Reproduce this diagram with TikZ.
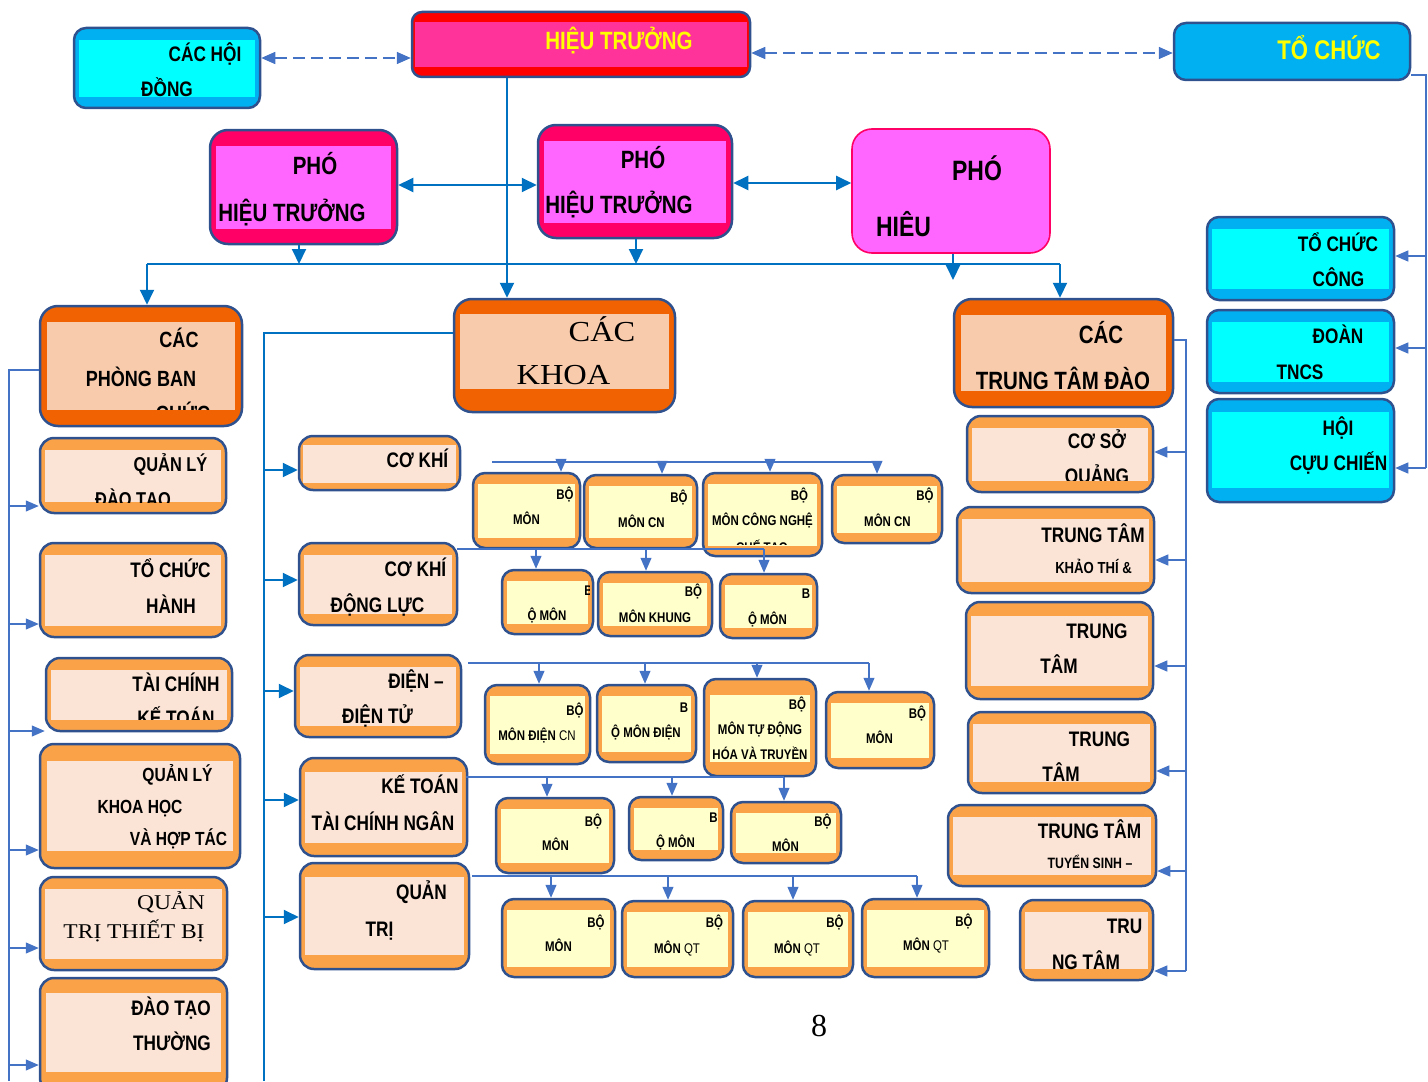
\documentclass[tikz,border=0pt]{standalone}
\usepackage{fontspec}
\setmainfont{Liberation Serif}
\newfontfamily\narrowsf[FakeStretch=0.82]{Liberation Sans}
\newfontfamily\widerm[FakeStretch=1.12]{Liberation Serif}
\usetikzlibrary{arrows.meta}

\definecolor{edgeblue}{RGB}{47,82,143}
\definecolor{wireblue}{RGB}{0,112,192}
\definecolor{hairblue}{RGB}{68,114,196}
\definecolor{skyout}{RGB}{0,176,240}
\definecolor{skyin}{RGB}{0,255,255}
\definecolor{htred}{RGB}{255,0,0}
\definecolor{htpink}{RGB}{255,51,153}
\definecolor{phout}{RGB}{255,0,102}
\definecolor{phin}{RGB}{255,102,255}
\definecolor{darkor}{RGB}{240,98,2}
\definecolor{peach}{RGB}{248,203,173}
\definecolor{lightor}{RGB}{250,162,72}
\definecolor{cream}{RGB}{251,228,214}
\definecolor{lemon}{RGB}{255,255,204}
\definecolor{txtyellow}{RGB}{255,255,0}

\tikzset{
  rim/.style={draw=edgeblue, line width=1.25pt, rounded corners=#1, inner sep=0pt},
  band/.style n args={4}{path picture={\fill[#1, sharp corners] ([xshift=#2,yshift=-#3]path picture bounding box.north west) rectangle ([xshift=-#2,yshift=#4]path picture bounding box.south east);}},
  skybox/.style={rim=6pt, fill=skyout, band={skyin}{2.5pt}{6pt}{5.5pt}},
  htbox/.style={rim=5pt, fill=htred, band={htpink}{1.5pt}{5pt}{5pt}},
  phbox/.style={rim=9pt, fill=phout, band={phin}{3pt}{8pt}{7.5pt}},
  phplain/.style={draw=phout, line width=0.8pt, rounded corners=10pt, fill=phin, inner sep=0pt},
  topbox/.style={rim=6pt, fill=skyout},
  bigbox/.style={rim=9pt, fill=darkor, band={peach}{3.5pt}{8pt}{8pt}},
  unitbox/.style={rim=7pt, fill=lightor, band={cream}{2.5pt}{6pt}{5.5pt}},
  subbox/.style={rim=6pt, fill=lightor, band={lemon}{2.5pt}{5.5pt}{5pt}},
  lbl/.style={font=\narrowsf\bfseries\fontsize{#1}{#1}\selectfont, inner sep=0pt, anchor=base},
  rml/.style={font=\widerm\fontsize{#1}{#1}\selectfont, inner sep=0pt, anchor=base},
  wire/.style={draw=wireblue, line width=1pt},
  wireA/.style={wire, -{Triangle[length=7.5pt,width=7pt]}},
  wireAB/.style={wire, {Triangle[length=7.5pt,width=7pt]}-{Triangle[length=7.5pt,width=7pt]}},
  hair/.style={draw=hairblue, line width=0.6pt},
  hairA/.style={hair, -{Triangle[length=6.5pt,width=5.5pt]}},
  dashwire/.style={draw=hairblue, line width=0.8pt, dash pattern=on 6pt off 3pt,
    {Triangle[length=7pt,width=6pt]}-{Triangle[length=7pt,width=6pt]}},
}

% box from its corners, in pixels of the page
\newcommand{\boxat}[6]{\node[#1, minimum width={(#5-#3)*0.5pt}, minimum height={(#6-#4)*0.5pt}] (#2) at ({(#3+#5)/2},{(#4+#6)/2}) {};}

\begin{document}
\begin{tikzpicture}[x=0.5pt,y=-0.5pt]
\clip (0,0) rectangle (1428,1081);

% top
\boxat{skybox}{hd}{74}{28}{260}{108}
\node[lbl=10.5] (hdA) at (205,62) {CÁC HỘI};
\node[lbl=10.5] (hdB) at (167,97) {ĐỒNG};
\boxat{htbox}{ht}{412}{12}{750}{77}
\node[lbl=12.5, text=txtyellow] (htA) at (619,50) {HIỆU TRƯỞNG};
\boxat{topbox}{tcc}{1174}{23}{1410}{80}
\node[lbl=13.5, text=txtyellow] (tccA) at (1329,60) {TỔ CHỨC};

% pho hieu truong
\boxat{phbox}{pht1}{210}{130}{397}{244}
\node[lbl=12.5] (pht1A) at (315,174) {PHÓ};
\node[lbl=12.5] (pht1B) at (292,221) {HIỆU TRƯỞNG};
\boxat{phbox}{pht2}{538}{125}{732}{238}
\node[lbl=12.5] (pht2A) at (643,168) {PHÓ};
\node[lbl=12.5] (pht2B) at (619,213) {HIỆU TRƯỞNG};
\boxat{phplain}{pht3}{852}{129}{1050}{253}
\node[lbl=14] (pht3A) at (977,180) {PHÓ};
\node[lbl=14] (pht3B) at (903.5,236) {HIÊU};

% doan the
\boxat{skybox}{tcn}{1207}{217}{1394}{300}
\node[lbl=10.5] (tcnA) at (1338,251) {TỔ CHỨC};
\node[lbl=10.5] (tcnB) at (1338.5,286) {CÔNG};
\boxat{skybox}{dtn}{1207}{310}{1394}{393}
\node[lbl=10.5] (dtnA) at (1338,343) {ĐOÀN};
\node[lbl=10.5] (dtnB) at (1300,379) {TNCS};
\boxat{skybox, band={skyin}{2.5pt}{6.5pt}{7pt}}{hcc}{1207}{399}{1394}{502}
\node[lbl=10.5] (hccA) at (1338,435) {HỘI};
\node[lbl=10.5] (hccB) at (1338.5,470) {CỰU CHIẾN};

% big heads
\boxat{bigbox}{pb}{40}{306}{242}{426}
\node[lbl=11] (pbA) at (179,347) {CÁC};
\node[lbl=11] (pbB) at (141,386) {PHÒNG BAN};
\begin{scope}
\clip (47,323) rectangle (235,409);
\node[lbl=11] (pbC) at (183,421) {CHỨC};
\end{scope}
\boxat{bigbox, band={peach}{3pt}{7.5pt}{11.5pt}}{khoa}{454}{299}{675}{412}
\node[rml=14.5] (khoaA) at (602,341) {CÁC};
\node[rml=14.5] (khoaB) at (563.5,384) {KHOA};
\boxat{bigbox}{ttd}{954}{299}{1173}{407}
\node[lbl=12.5] (ttdA) at (1101,343) {CÁC};
\node[lbl=12.5] (ttdB) at (1063,389) {TRUNG TÂM ĐÀO};

% phong ban
\boxat{unitbox}{qldt}{40}{438}{226}{513}
\node[lbl=10] (qldtA) at (170.5,471) {QUẢN LÝ};
\begin{scope}
\clip (45,449) rectangle (222,502);
\node[lbl=10] (qldtB) at (133,506) {ĐÀO TẠO};
\end{scope}
\boxat{unitbox}{tch}{40}{543}{226}{637}
\node[lbl=10.5] (tchA) at (170.5,577) {TỔ CHỨC};
\node[lbl=10.5] (tchB) at (171,613) {HÀNH};
\boxat{unitbox}{tck}{46}{658}{232}{731}
\node[lbl=10.5] (tckA) at (176,691) {TÀI CHÍNH};
\begin{scope}
\clip (50,668) rectangle (228,719);
\node[lbl=10.5] (tckB) at (176,725) {KẾ TOÁN};
\end{scope}
\boxat{unitbox, band={cream}{3.5pt}{8.5pt}{8.5pt}}{qlkh}{40}{744}{240}{868}
\node[lbl=9.5] (qlkhA) at (177.5,781) {QUẢN LÝ};
\node[lbl=9.5] (qlkhB) at (140,813) {KHOA HỌC};
\node[lbl=9.5] (qlkhC) at (178.5,845) {VÀ HỢP TÁC};
\boxat{unitbox}{qttb}{40}{877}{227}{970}
\node[rml=10.5] (qttbA) at (171,909) {QUẢN};
\node[rml=10.5] (qttbB) at (134,938) {TRỊ THIẾT BỊ};
\boxat{unitbox, band={cream}{3pt}{7.5pt}{10pt}}{dtt}{40}{978}{227}{1092}
\node[lbl=10.5] (dttA) at (171,1015) {ĐÀO TẠO};
\node[lbl=10.5] (dttB) at (172,1050) {THƯỜNG};

% khoa
\boxat{unitbox, band={cream}{2pt}{4.5pt}{3.5pt}}{ck}{299}{436}{460}{490}
\node[lbl=10.5] (ckA) at (417.5,467) {CƠ KHÍ};
\boxat{unitbox}{ckdl}{299}{543}{457}{625}
\node[lbl=10.5] (ckdlA) at (415.5,576) {CƠ KHÍ};
\node[lbl=10.5] (ckdlB) at (377.5,612) {ĐỘNG LỰC};
\boxat{unitbox}{ddt}{295}{655}{461}{737}
\node[lbl=10.5] (ddtA) at (416,688) {ĐIỆN –};
\node[lbl=10.5] (ddtB) at (377.5,723) {ĐIỆN TỬ};
\boxat{unitbox, band={cream}{2.5pt}{7pt}{6.5pt}}{ktnh}{300}{758}{467}{856}
\node[lbl=10.5] (ktnhA) at (420,793) {KẾ TOÁN};
\node[lbl=10.5] (ktnhB) at (383,830) {TÀI CHÍNH NGÂN};
\boxat{unitbox, band={cream}{2.5pt}{7pt}{7pt}}{qtri}{300}{863}{469}{969}
\node[lbl=10.5] (qtriA) at (421.5,899) {QUẢN};
\node[lbl=10.5] (qtriB) at (379.5,936) {TRỊ};

% bo mon, co khi
\boxat{subbox}{bm1}{473}{473}{580}{548}
\node[lbl=7] (bm1A) at (565,499) {BỘ};
\node[lbl=7] (bm1B) at (526.5,524) {MÔN};
\boxat{subbox}{bm2}{584}{475}{697}{548}
\node[lbl=7] (bm2A) at (679,502) {BỘ};
\node[lbl=7] (bm2B) at (641.5,527) {MÔN CN};
\boxat{subbox}{bm3}{703}{473}{822}{556}
\node[lbl=7] (bm3A) at (799.5,500) {BỘ};
\node[lbl=7] (bm3B) at (762.5,525) {MÔN CÔNG NGHỆ};
\begin{scope}
\clip (707,483) rectangle (817,544);
\node[lbl=7] (bm3C) at (762,552) {CHẾ TẠO};
\end{scope}
\boxat{subbox}{bm4}{832}{475}{942}{543}
\node[lbl=7] (bm4A) at (925,500) {BỘ};
\node[lbl=7] (bm4B) at (887.5,526) {MÔN CN};

% bo mon, co khi dong luc
\boxat{subbox}{bm5}{502}{570}{593}{634}
\begin{scope}
\clip (506,580) rectangle (589,624);
\node[lbl=7, anchor=base west] (bm5A) at (584,595) {B};
\end{scope}
\node[lbl=7] (bm5B) at (547,620) {Ộ MÔN};
\boxat{subbox}{bm6}{598}{572}{712}{636}
\node[lbl=7] (bm6A) at (693.5,596) {BỘ};
\node[lbl=7] (bm6B) at (655,622) {MÔN KHUNG};
\boxat{subbox}{bm7}{720}{574}{817}{638}
\node[lbl=7] (bm7A) at (806,598) {B};
\node[lbl=7] (bm7B) at (767.5,624) {Ộ MÔN};

% bo mon, dien
\boxat{subbox}{bm8}{485}{685}{590}{764}
\node[lbl=7] (bm8A) at (575,715) {BỘ};
\node[lbl=7] (bm8B) at (537,740) {MÔN ĐIỆN {\mdseries CN}};
\boxat{subbox}{bm9}{597}{685}{696}{762}
\node[lbl=7] (bm9A) at (684,712) {B};
\node[lbl=7] (bm9B) at (646,737) {Ộ MÔN ĐIỆN};
\boxat{subbox, band={lemon}{3pt}{8pt}{7pt}}{bm10}{704}{679}{816}{776}
\node[lbl=7] (bm10A) at (797.5,709) {BỘ};
\node[lbl=7] (bm10B) at (760,734) {MÔN TỰ ĐỘNG};
\node[lbl=7] (bm10C) at (760,759) {HÓA VÀ TRUYỀN};
\boxat{subbox}{bm11}{826}{692}{934}{768}
\node[lbl=7] (bm11A) at (917.5,718) {BỘ};
\node[lbl=7] (bm11B) at (879.5,743) {MÔN};

% bo mon, ke toan
\boxat{subbox}{bm12}{496}{798}{614}{873}
\node[lbl=7] (bm12A) at (593.5,826) {BỘ};
\node[lbl=7] (bm12B) at (555.5,850) {MÔN};
\boxat{subbox}{bm13}{629}{797}{723}{860}
\node[lbl=7] (bm13A) at (713.5,822) {B};
\node[lbl=7] (bm13B) at (675.5,847) {Ộ MÔN};
\boxat{subbox}{bm14}{731}{802}{841}{863}
\node[lbl=7] (bm14A) at (823,826) {BỘ};
\node[lbl=7] (bm14B) at (785.5,851) {MÔN};

% bo mon, quan tri
\boxat{subbox}{bm15}{502}{899}{615}{977}
\node[lbl=7] (bm15A) at (596,927) {BỘ};
\node[lbl=7] (bm15B) at (558.5,951) {MÔN};
\boxat{subbox}{bm16}{622}{901}{733}{977}
\node[lbl=7] (bm16A) at (714.5,927) {BỘ};
\node[lbl=7] (bm16B) at (677,953) {MÔN {\mdseries QT}};
\boxat{subbox}{bm17}{743}{901}{853}{977}
\node[lbl=7] (bm17A) at (835,927) {BỘ};
\node[lbl=7] (bm17B) at (797,953) {MÔN {\mdseries QT}};
\boxat{subbox}{bm18}{862}{899}{989}{977}
\node[lbl=7] (bm18A) at (964,926) {BỘ};
\node[lbl=7] (bm18B) at (926,950) {MÔN {\mdseries QT}};

% trung tam
\boxat{unitbox}{cs}{967}{416}{1153}{492}
\node[lbl=10.5] (csA) at (1097,448) {CƠ SỞ};
\begin{scope}
\clip (971,426) rectangle (1148,480);
\node[lbl=10.5] (csB) at (1097,483) {QUẢNG};
\end{scope}
\boxat{unitbox}{ktt}{957}{507}{1154}{593}
\node[lbl=10.5] (kttA) at (1093,542) {TRUNG TÂM};
\node[lbl=8] (kttB) at (1093.5,573) {KHẢO THÍ \&};
\boxat{unitbox, band={cream}{2.5pt}{7pt}{6.5pt}}{tt3}{966}{602}{1153}{699}
\node[lbl=10.5] (tt3A) at (1097,638) {TRUNG};
\node[lbl=10.5] (tt3B) at (1059,673) {TÂM};
\boxat{unitbox}{tt4}{968}{712}{1155}{793}
\node[lbl=10.5] (tt4A) at (1099.5,746) {TRUNG};
\node[lbl=10.5] (tt4B) at (1061,781) {TÂM};
\boxat{unitbox}{tt5}{948}{805}{1156}{886}
\node[lbl=10.5] (tt5A) at (1089.5,838) {TRUNG TÂM};
\node[lbl=7.5] (tt5B) at (1090,868) {TUYỂN SINH –};
\boxat{unitbox}{tt6}{1020}{900}{1153}{980}
\node[lbl=10.5] (tt6A) at (1124.5,933) {TRU};
\node[lbl=10.5] (tt6B) at (1086,969) {NG TÂM};

\node[font=\fontsize{16}{16}\selectfont, inner sep=0pt, anchor=base] (pg) at (819,1036) {8};

% links from the head
\draw[dashwire] (hd.east |- 0,58) -- (ht.west |- 0,58);
\draw[dashwire] (ht.east |- 0,53) -- (tcc.west |- 0,53);
\draw[wireAB] (pht1.east |- 0,185) -- (pht2.west |- 0,185);
\draw[wireAB] (pht2.east |- 0,183) -- (pht3.west |- 0,183);
\coordinate (vk) at (507,0);
\draw[wireA] (ht.south -| vk) -- (khoa.north -| vk);
\coordinate (busL) at (147,264);
\coordinate (busR) at (1060,264);
\draw[wire] (busL) -- (busR);
\draw[wireA] (busL) -- (pb.north -| busL);
\draw[wireA] (busR) -- (ttd.north -| busR);
\draw[wireA] (pht1.south -| 299,0) -- (busL -| 299,0);
\draw[wireA] (pht2.south -| 636,0) -- (busL -| 636,0);
\coordinate (p3end) at (953,280);
\draw[wireA] (pht3.south -| p3end) -- (p3end);

% doan the
\coordinate (rb) at (1426,0);
\draw[hair] (tcc.east |- 0,75) -- (rb |- 0,75) -- (rb |- 0,468);
\foreach \nm/\y in {tcn/256, dtn/348, hcc/468}
  \draw[hairA] (rb |- 0,\y) -- (\nm.east |- 0,\y);

% phong ban
\coordinate (lb) at (9,0);
\draw[hair] (pb.west |- 0,370) -- (lb |- 0,370) -- (lb |- 0,1081);
\foreach \nm/\y in {qldt/506, tch/624, tck/731, qlkh/850, qttb/948, dtt/1065}
  \draw[hairA] (lb |- 0,\y) -- (\nm.west |- 0,\y);

% khoa
\coordinate (kb) at (264,0);
\draw[wire] (khoa.west |- 0,333) -- (kb |- 0,333) -- (kb |- 0,1081);
\foreach \nm/\y in {ck/470, ckdl/580, ddt/691, ktnh/800, qtri/917}
  \draw[wireA] (kb |- 0,\y) -- (\nm.west |- 0,\y);

% trung tam
\coordinate (tb) at (1186,0);
\draw[hair] (ttd.east |- 0,340) -- (tb |- 0,340) -- (tb |- 0,971);
\foreach \nm/\y in {cs/452, ktt/560, tt3/666, tt4/771, tt5/871, tt6/971}
  \draw[hairA] (tb |- 0,\y) -- (\nm.east |- 0,\y);

% bo mon rows
\coordinate (r1a) at (492,462); \coordinate (r1b) at (877,462);
\draw[hair] (r1a) -- (r1b);
\foreach \nm/\x in {bm1/561, bm2/662, bm3/770, bm4/877}
  \draw[hairA] (r1a -| \x,0) -- (\nm.north -| \x,0);
\coordinate (r2a) at (457,549); \coordinate (r2b) at (764,549);
\draw[hair] (r2a) -- (r2b);
\foreach \nm/\x in {bm5/536, bm6/646, bm7/764}
  \draw[hairA] (r2a -| \x,0) -- (\nm.north -| \x,0);
\coordinate (r3a) at (468,663); \coordinate (r3b) at (869,663);
\draw[hair] (r3a) -- (r3b);
\foreach \nm/\x in {bm8/539, bm9/645, bm10/757, bm11/869}
  \draw[hairA] (r3a -| \x,0) -- (\nm.north -| \x,0);
\coordinate (r4a) at (466,777); \coordinate (r4b) at (784,777);
\draw[hair] (r4a) -- (r4b);
\foreach \nm/\x in {bm12/547, bm13/672, bm14/784}
  \draw[hairA] (r4a -| \x,0) -- (\nm.north -| \x,0);
\coordinate (r5a) at (472,876); \coordinate (r5b) at (917,876);
\draw[hair] (r5a) -- (r5b);
\foreach \nm/\x in {bm15/551, bm16/668, bm17/793, bm18/917}
  \draw[hairA] (r5a -| \x,0) -- (\nm.north -| \x,0);
\end{tikzpicture}
\end{document}
